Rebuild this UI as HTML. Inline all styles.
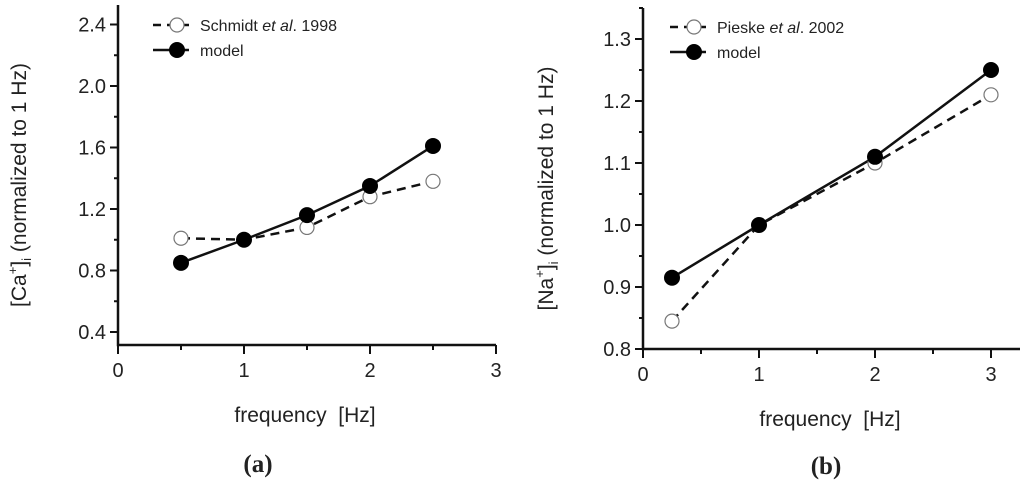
<!DOCTYPE html>
<html><head><meta charset="utf-8"><style>
body{margin:0;background:#fff}
svg text{font-family:"Liberation Sans",sans-serif;fill:#222}
</style></head><body>
<svg id="s" width="1024" height="486" xmlns="http://www.w3.org/2000/svg"></svg>
<script>
const aX=[0.5,1,1.5,2,2.5];
const aExp=[1.01,1.0,1.08,1.28,1.38];
const aModel=[0.85,1.0,1.16,1.35,1.61];
const aYTicks=[0.4,0.8,1.2,1.6,2.0,2.4];
const aXTicks=[0,1,2,3];
const bX=[0.25,1,2,3];
const bExp=[0.845,1.0,1.10,1.21];
const bModel=[0.915,1.0,1.11,1.25];
const bYTicks=[0.8,0.9,1.0,1.1,1.2,1.3];
const bXTicks=[0,1,2,3];
const NS="http://www.w3.org/2000/svg";
const svg=document.getElementById('s');
function mk(tag,attrs,parent){const e=document.createElementNS(NS,tag);for(const k in attrs)e.setAttribute(k,attrs[k]);(parent||svg).appendChild(e);return e;}
function panel(p){
  const g=mk('g',{});
  
  
  const sx=v=>p.x0+(v-p.xmin)*p.xs, sy=v=>p.y0-(v-p.ymin)*p.ys;
  const ax=mk('path',{d:`M${p.x0} ${p.ytop}V${p.yb}H${p.xend}`,stroke:'#111','stroke-width':2.5,fill:'none'},g);
  
  
  for(let v=p.ymin+p.ymin0;v<=p.ymaxT+1e-9;v+=p.yminor){const y=sy(v);mk('line',{x1:p.x0,x2:p.x0-4,y1:y,y2:y,stroke:'#111','stroke-width':2},g);}
  p.yt.forEach(v=>{const y=sy(v);mk('line',{x1:p.x0,x2:p.x0-8,y1:y,y2:y,stroke:'#111','stroke-width':2},g);
    const t=mk('text',{x:p.x0-12,y:y+7,'text-anchor':'end','font-size':20},g);t.textContent=v.toFixed(1);
    
    });
  for(let v=0.5;v<3;v+=1){const x=sx(v);mk('line',{x1:x,x2:x,y1:p.yb,y2:p.yb+5,stroke:'#111','stroke-width':2},g);}
  p.xt.forEach(v=>{const x=sx(v);mk('line',{x1:x,x2:x,y1:p.yb,y2:p.yb+9,stroke:'#111','stroke-width':2},g);
    const t=mk('text',{x:x,y:p.yb+32,'text-anchor':'middle','font-size':20},g);t.textContent=v;
    
    });
  const pe=mk('polyline',{points:p.xs_.map((v,i)=>sx(v)+','+sy(p.exp[i])).join(' '),fill:'none',stroke:'#111','stroke-width':2.5,'stroke-dasharray':'9 6'},g);
  
  
  const pm=mk('polyline',{points:p.xs_.map((v,i)=>sx(v)+','+sy(p.mod[i])).join(' '),fill:'none',stroke:'#111','stroke-width':2.5},g);
  
  
  p.xs_.forEach((v,i)=>{const c=mk('circle',{cx:sx(v),cy:sy(p.exp[i]),r:7,fill:'#fff',stroke:'#777','stroke-width':1.2},g);
    
    });
  p.xs_.forEach((v,i)=>{const c=mk('circle',{cx:sx(v),cy:sy(p.mod[i]),r:8,fill:'#000'},g);
    
    });
  const lx=p.lx,ly=p.ly;
  mk('line',{x1:lx,x2:lx+36,y1:ly,y2:ly,stroke:'#111','stroke-width':2.5,'stroke-dasharray':'8 6'},g);
  mk('circle',{cx:lx+24,cy:ly,r:7,fill:'#fff',stroke:'#777','stroke-width':1.2},g);
  const t1=mk('text',{x:lx+47,y:ly+6,'font-size':16},g);t1.innerHTML=p.leg;
  
  
  mk('line',{x1:lx,x2:lx+36,y1:ly+25,y2:ly+25,stroke:'#111','stroke-width':2.5},g);
  mk('circle',{cx:lx+24,cy:ly+25,r:8,fill:'#000'},g);
  const t2=mk('text',{x:lx+47,y:ly+31,'font-size':16},g);t2.textContent='model';
  
  
  const yl=mk('text',{transform:`translate(${p.ylx},${(p.ytop+p.yb)/2+10}) rotate(-90)`,'text-anchor':'middle','font-size':21},g);
  yl.innerHTML=`[${p.ion}<tspan dy="-9" font-size="13">+</tspan><tspan dy="9">]</tspan><tspan dy="5" font-size="13">i</tspan><tspan dy="-5"> (normalized to 1 Hz)</tspan>`;
  
  
  const xl=mk('text',{x:p.xlc,y:p.yb+77,'text-anchor':'middle','font-size':21},g);
  xl.textContent='frequency\u00a0\u00a0[Hz]';
  
  
  const cap=mk('text',{x:p.capx,y:p.capy,'text-anchor':'middle','font-size':25,'font-weight':'bold',style:'font-family:"Liberation Serif",serif'},g);
  cap.textContent='('+p.cap+')';
  
  
}
panel({name:'panel-a',x0:118,xmin:0,xs:126,xend:496,y0:332,ymin:0.4,ys:153.75,yb:345,ytop:5,ymin0:0,ymaxT:2.5,yminor:0.2,
  yt:aYTicks,xt:aXTicks,xs_:aX,exp:aExp,mod:aModel,lx:153,ly:25,leg:'Schmidt <tspan font-style="italic">et al</tspan>. 1998',ion:'Ca',ylx:26,cap:'a',xlc:305,capx:258,capy:472});
panel({name:'panel-b',x0:643,xmin:0,xs:116,xend:1020,y0:349,ymin:0.8,ys:620,yb:349,ytop:8,ymin0:0.05,ymaxT:1.35,yminor:0.1,
  yt:bYTicks,xt:bXTicks,xs_:bX,exp:bExp,mod:bModel,lx:670,ly:27,leg:'Pieske <tspan font-style="italic">et al</tspan>. 2002',ion:'Na',ylx:553,cap:'b',xlc:830,capx:826,capy:474});
</script>
</body></html>
